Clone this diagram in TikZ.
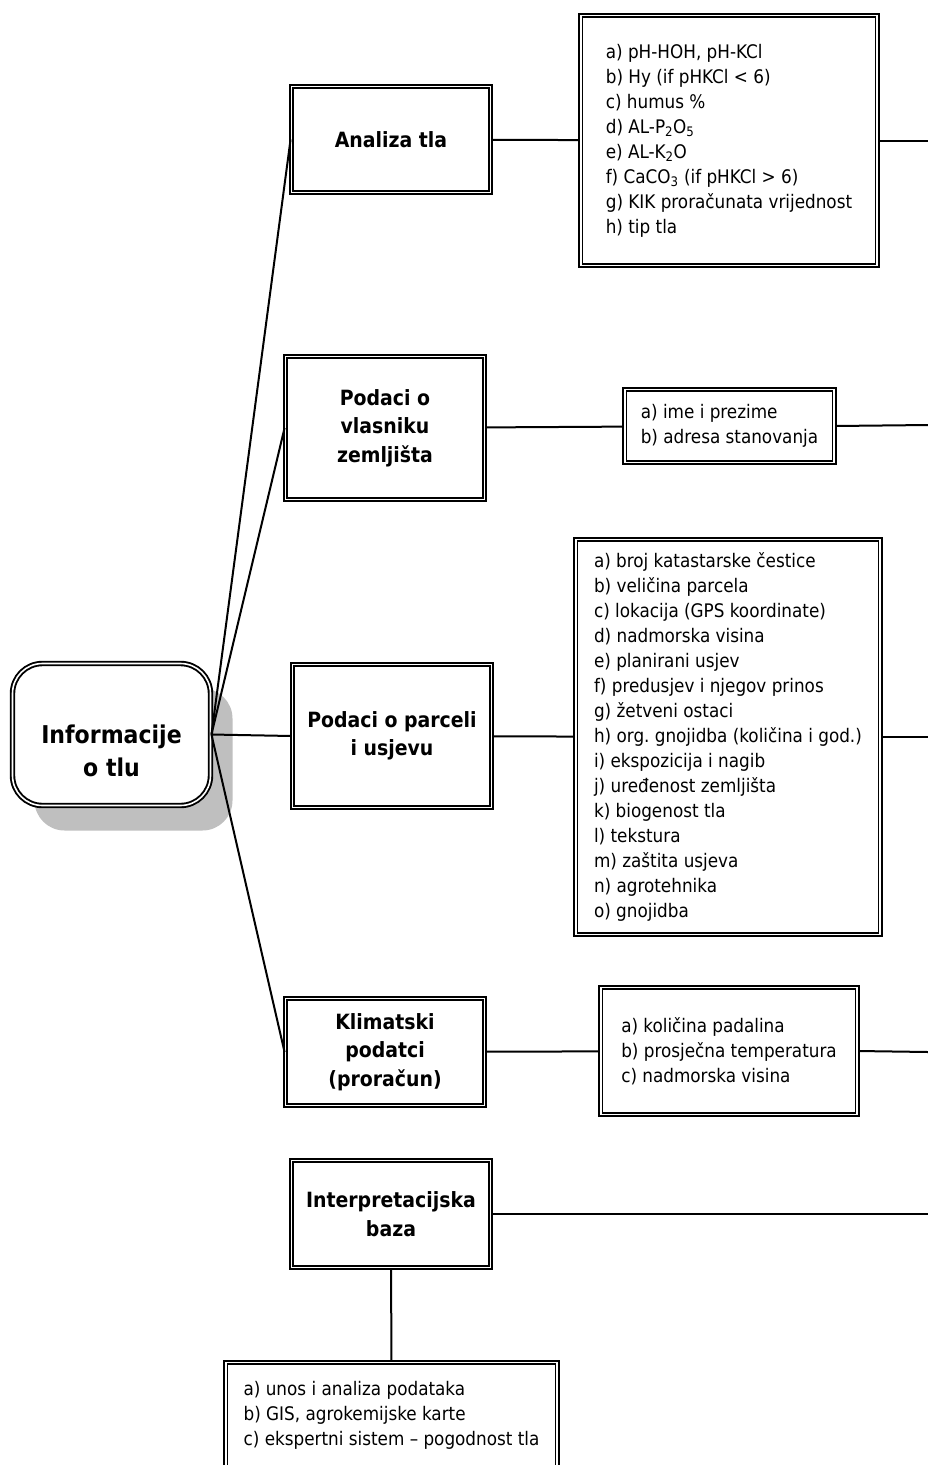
\documentclass[tikz,border=0pt]{standalone}
\usepackage{fontspec}
\setmainfont{DejaVu Sans Condensed}
\usetikzlibrary{shadows}
\frenchspacing

\begin{document}
\begin{tikzpicture}[x=1pt, y=-1pt,
    frame/.style={draw, double=white, double distance=1.6pt, line width=1.9pt},
    headbox/.style={frame, minimum width=199pt, align=center,
        font=\bfseries\fontsize{21}{28.5}\selectfont},
    listbox/.style={frame, align=left,
        font=\fontsize{18.7}{25}\selectfont},
    link/.style={line width=2pt}]
    \useasboundingbox (0,0) rectangle (928,1465);

    % central node
    \node[frame, rounded corners=30pt, minimum width=198pt, minimum height=142pt,
        fill=white, drop shadow={shadow xshift=22pt, shadow yshift=-25pt, fill=black!25, opacity=1}]
        (info) at (111.5,734.5) {};
    \node[align=center, font=\bfseries\fontsize{24.5}{33}\selectfont] (infolabel) at (111.5,751) {Informacije\\o tlu};

    % headings
    \node[headbox, minimum height=106pt] (analiza) at (391,139.5) {Analiza tla};
    \node[headbox, minimum height=143pt] (vlasnik) at (385,428) {Podaci o\\vlasniku\\zemljišta};
    \node[headbox, minimum height=143pt] (parcela) at (392,736) {Podaci o parceli\\i usjevu};
    \node[headbox, minimum height=107pt] (klima) at (385,1052) {Klimatski\\podatci\\(proračun)};
    \node[headbox, minimum height=107pt] (interp) at (391,1214) {Interpretacijska\\baza};

    % lists
    \node[listbox, minimum width=296.5pt, minimum height=250pt] (analizalist) at (729,140.5)
        {a) pH-HOH, pH-KCl\\b) Hy (if pHKCl < 6)\\c) humus \%\\d) AL-P\textsubscript{2}O\textsubscript{5}\\e) AL-K\textsubscript{2}O\\f) CaCO\textsubscript{3} (if pHKCl > 6)\\g) KIK proračunata vrijednost\\h) tip tla};
    \node[listbox, minimum width=209.5pt, minimum height=73pt] (vlasniklist) at (729.5,426)
        {a) ime i prezime\\b) adresa stanovanja};
    \node[listbox, minimum width=304.5pt, minimum height=395pt] (parcelalist) at (728,737)
        {a) broj katastarske čestice\\b) veličina parcela\\c) lokacija (GPS koordinate)\\d) nadmorska visina\\e) planirani usjev\\f) predusjev i njegov prinos\\g) žetveni ostaci\\h) org. gnojidba (količina i god.)\\i) ekspozicija i nagib\\j) uređenost zemljišta\\k) biogenost tla\\l) tekstura\\m) zaštita usjeva\\n) agrotehnika\\o) gnojidba};
    \node[listbox, minimum width=256.5pt, minimum height=127pt] (klimalist) at (729,1051)
        {a) količina padalina\\b) prosječna temperatura\\c) nadmorska visina};
    \node[listbox, minimum width=331.5pt, minimum height=105pt] (interplist) at (391.5,1415)
        {a) unos i analiza podataka\\b) GIS, agrokemijske karte\\c) ekspertni sistem – pogodnost tla};

    % free ends at the right edge
    \coordinate (out1) at (928,140.5);
    \coordinate (out2) at (928,425);
    \coordinate (out3) at (928,737);
    \coordinate (out4) at (928,1052);
    \coordinate (out5) at (928,1214);

    \draw[link] (info.east) -- (analiza.west);
    \draw[link] (info.east) -- (vlasnik.west);
    \draw[link] (info.east) -- (parcela.west);
    \draw[link] (info.east) -- (klima.west);

    \draw[link] (analiza) -- (analizalist);
    \draw[link] (vlasnik) -- (vlasniklist);
    \draw[link] (parcela) -- (parcelalist);
    \draw[link] (klima) -- (klimalist);
    \draw[link] (interp) -- (interplist);

    \draw[link] (analizalist.east) -- (out1);
    \draw[link] (vlasniklist.east) -- (out2);
    \draw[link] (parcelalist.east) -- (out3);
    \draw[link] (klimalist.east) -- (out4);
    \draw[link] (interp.east) -- (out5);
\end{tikzpicture}
\end{document}
